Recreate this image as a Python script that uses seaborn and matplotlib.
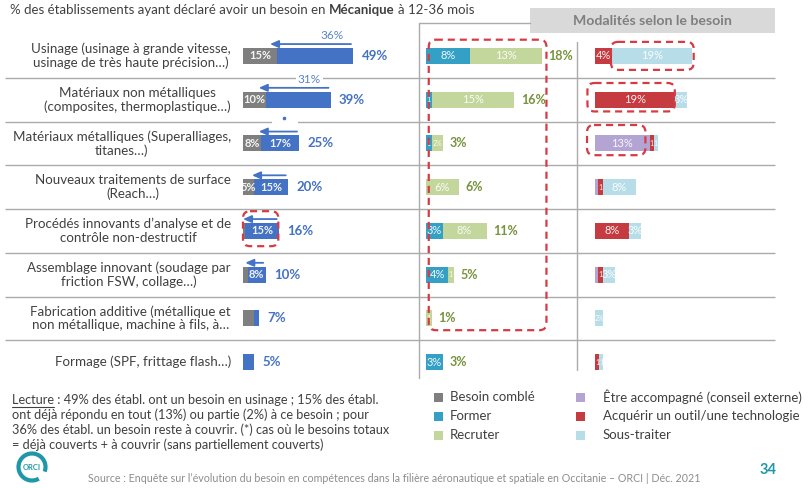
import matplotlib
matplotlib.use("Agg")
import matplotlib.pyplot as plt
from matplotlib.patches import FancyBboxPatch, Rectangle, Arc
import numpy as np
import pandas as pd
import seaborn as sns

sns.set_theme(style="white")
plt.rcParams["font.family"] = ["Lato", "DejaVu Sans"]

W, H, DPI = 811, 488, 100

# ---------------------------------------------------------------- data
categories = [
    "Usinage (usinage à grande vitesse,\nusinage de très haute précision…)",
    "Matériaux non métalliques\n(composites, thermoplastique…)",
    "Matériaux métalliques (Superalliages,\ntitanes…)",
    "Nouveaux traitements de surface\n(Reach…)",
    "Procédés innovants d’analyse et de\ncontrôle non-destructif",
    "Assemblage innovant (soudage par\nfriction FSW, collage…)",
    "Fabrication additive (métallique et\nnon métallique, machine à fils, à…",
    "Formage (SPF, frittage flash…)",
]

# % of establishments with a need: already met / still to cover
besoin_comble = [15, 10, 8, 5, 1, 2, 5, 0]
besoin_a_couvrir = [34, 29, 17, 15, 15, 8, 2, 5]
reste_a_couvrir = [36, 31, 17, 15, 15, 8, 0, 0]
reste_labels = ["36%", "31%", "", "", "", "", "", ""]
label_comble = [True, True, True, True, False, False, False, False]
label_a_couvrir = [False, False, True, True, True, True, False, False]

# Modalities: human resources
former = [8, 1, 1, 0, 3, 4, 0, 3]
recruter = [13, 15, 2, 6, 8, 1, 1, 0]
total_rh = [18, 16, 3, 6, 11, 5, 1, 3]

# Modalities: external solutions
accompagne = [0, 0, 13, 0.8, 0, 0.8, 0, 0]
acquerir = [4, 19, 1, 1, 8, 1, 0, 1]
sous_traiter = [19, 3, 1, 8, 3, 3, 2, 1]

legend_left = ["Besoin comblé", "Former", "Recruter"]
legend_right = ["Être accompagné (conseil externe)",
                "Acquérir un outil/une technologie", "Sous-traiter"]

# ---------------------------------------------------------------- style
C_GRAY = "#7F7F7F"
C_BLUE = "#4472C4"
C_TEAL = "#35A0C6"
C_GREEN = "#C3D69B"
C_PURPLE = "#B4A4D4"
C_RED = "#C63B40"
C_LBLUE = "#B7DDE8"
C_TEXT = "#404040"
C_LINE = "#ABABAB"
C_DASH = "#D63A42"
C_OLIVE = "#77933C"
C_ORCI = "#1E97A8"

fig = plt.figure(figsize=(W / DPI, H / DPI), dpi=DPI)
fig.patch.set_facecolor("white")


def px_axes(x0, y0, x1, y1, z):
    ax = fig.add_axes([x0 / W, 1 - y1 / H, (x1 - x0) / W, (y1 - y0) / H])
    ax.set_zorder(z)
    ax.axis("off")
    return ax


N = len(categories)
ROW_TOP, ROW_BOTTOM = 34, 384
ROW_H = (ROW_BOTTOM - ROW_TOP) / N


def row_y(i):
    return ROW_TOP + ROW_H * (i + 0.5)


back = px_axes(0, 0, W, H, 0)
back.set_xlim(0, W)
back.set_ylim(H, 0)
front = px_axes(0, 0, W, H, 10)
front.set_xlim(0, W)
front.set_ylim(H, 0)

L_X0, L_SC, L_MAX = 243, 2.25, 70
M_X0, M_SC, M_MAX = 426, 5.5, 26
R_X0, R_SC, R_MAX = 595, 4.2, 42
ax_l = px_axes(L_X0, ROW_TOP, L_X0 + L_SC * L_MAX, ROW_BOTTOM, 2)
ax_m = px_axes(M_X0, ROW_TOP, M_X0 + M_SC * M_MAX, ROW_BOTTOM, 2)
ax_r = px_axes(R_X0, ROW_TOP, R_X0 + R_SC * R_MAX, ROW_BOTTOM, 2)


def stacked(ax, parts, colors, xmax):
    cum = np.cumsum(np.asarray(parts, dtype=float), axis=0)
    for k in range(len(parts) - 1, -1, -1):
        df = pd.DataFrame({"categorie": categories, "part": cum[k]})
        sns.barplot(data=df, x="part", y="categorie", orient="h",
                    color=colors[k], saturation=1, width=0.37,
                    errorbar=None, linewidth=0, ax=ax)
    ax.set_xlim(0, xmax)
    ax.set_ylim(N - 0.5, -0.5)
    ax.axis("off")
    return cum


def segment_labels(ax, parts, cum, masks=None, bold=False, min_val=1):
    for k, part in enumerate(parts):
        for i, v in enumerate(part):
            if masks is not None and not masks[k][i]:
                continue
            if masks is None and v < min_val:
                continue
            start = cum[k - 1][i] if k > 0 else 0
            if v >= 3:
                txt, fs = f"{v:g}%", 8
            elif v >= 2:
                txt, fs = f"{v:g}%", 5
            else:
                txt, fs = f"{v:g}", 5   # very thin segment: number only
            ax.text(start + v / 2, i, txt, ha="center", va="center",
                    fontsize=fs, color="white", alpha=0.92,
                    fontweight="bold" if bold else "normal")


# ---------------------------------------------------------------- left: need
cum_l = stacked(ax_l, [besoin_comble, besoin_a_couvrir], [C_GRAY, C_BLUE], L_MAX)
segment_labels(ax_l, [besoin_comble, besoin_a_couvrir], cum_l,
               masks=[label_comble, label_a_couvrir], bold=True)
total_besoin = cum_l[-1]
for i, t in enumerate(total_besoin):
    ax_l.annotate(f"{t:g}%", xy=(t, i), xytext=(6, 0), textcoords="offset points",
                  ha="left", va="center", fontsize=9.5, fontweight="bold", color=C_BLUE)
    r = reste_a_couvrir[i]
    if r > 0:
        y = i - 0.27
        ax_l.annotate("", xy=(t - 1 - r, y), xytext=(t - 1, y),
                      arrowprops=dict(arrowstyle="-|>,head_length=0.5,head_width=0.22",
                                      color=C_BLUE, lw=1.3, shrinkA=0, shrinkB=0,
                                      mutation_scale=10))
    if reste_labels[i]:
        ax_l.text(t - 9.5, i - 0.46, reste_labels[i], ha="center", va="center",
                  fontsize=8.5, color="#5B84C8", zorder=5,
                  bbox=dict(facecolor="white", edgecolor="none", pad=1.2))

# ---------------------------------------------------------------- middle: HR
cum_m = stacked(ax_m, [former, recruter], [C_TEAL, C_GREEN], M_MAX)
segment_labels(ax_m, [former, recruter], cum_m)
for i, t in enumerate(total_rh):
    ax_m.annotate(f"{t}%", xy=(cum_m[-1][i], i), xytext=(5, 0),
                  textcoords="offset points", ha="left", va="center",
                  fontsize=9, fontweight="bold", color=C_OLIVE)

# ---------------------------------------------------------------- right: external
cum_r = stacked(ax_r, [accompagne, acquerir, sous_traiter],
                [C_PURPLE, C_RED, C_LBLUE], R_MAX)
segment_labels(ax_r, [accompagne, acquerir, sous_traiter], cum_r)

# ---------------------------------------------------------------- frame lines
for k in range(1, N):
    y = ROW_TOP + ROW_H * k
    back.plot([5, 775], [y, y], color=C_LINE, lw=1, solid_capstyle="butt")
back.plot([419, 419], [23, 378], color=C_LINE, lw=1)
back.plot([419, 530], [23, 23], color=C_LINE, lw=1)
back.plot([577, 577], [42, 370], color=C_LINE, lw=1)
# small gap with a dot on the second separator
gy = ROW_TOP + ROW_H * 2
back.add_patch(Rectangle((272, gy - 2), 26, 4, facecolor="white", edgecolor="none", zorder=3))
back.plot([284], [gy - 4], marker="o", ms=1.6, color=C_BLUE, zorder=4)

back.add_patch(Rectangle((530, 8), 245, 25, facecolor="#D9D9D9", edgecolor="none"))
back.text(652, 21, "Modalités selon le besoin", ha="center", va="center",
          fontsize=10.2, fontweight="bold", color="#7F7F7F")

# category labels
for i, c in enumerate(categories):
    back.text(231, row_y(i), c, ha="right", va="center", multialignment="center",
              fontsize=9.6, color=C_TEXT, linespacing=1.15)


# ---------------------------------------------------------------- highlight boxes
def data_px(ax, x, y):
    X, Y = ax.transData.transform((x, y))
    return X, H - Y


def dashed_box(ax, x0, x1, r0, r1):
    a = data_px(ax, x0, r0)
    b = data_px(ax, x1, r1)
    front.add_patch(FancyBboxPatch((a[0], a[1]), b[0] - a[0], b[1] - a[1],
                                   boxstyle="round,pad=0,rounding_size=7",
                                   fill=False, edgecolor=C_DASH, lw=1.6,
                                   linestyle=(0, (3.2, 2.2))))


dashed_box(ax_m, 0.5, cum_m[-1].max() + 0.9, -0.37, 6.27)
dashed_box(ax_r, cum_r[1][0] - 0.2, cum_r[2][0] + 0.5, -0.32, 0.32)
dashed_box(ax_r, -1.8, cum_r[1][1], 0.62, 1.27)
dashed_box(ax_r, -1.9, accompagne[2] - 1, 1.58, 2.27)
dashed_box(ax_l, 0, total_besoin[4] - 0.3, 3.55, 4.35)

# ---------------------------------------------------------------- texts
renderer = fig.canvas.get_renderer()


def text_width(s, **kw):
    t = back.text(0, 0, s, **kw)
    w = t.get_window_extent(renderer).width
    t.remove()
    return w


tkw = dict(fontsize=9.5, color=C_TEXT)
space = text_width("a a", **tkw) - text_width("aa", **tkw)
x = 10
for piece, weight in [("% des établissements ayant déclaré avoir un besoin en", "normal"),
                      ("Mécanique", "bold"), ("à 12-36 mois", "normal")]:
    back.text(x, 10, piece, ha="left", va="center", fontweight=weight, **tkw)
    x += text_width(piece, fontweight=weight, **tkw) + space

lecture = [
    "Lecture : 49% des établ. ont un besoin en usinage ; 15% des établ.",
    "ont déjà répondu en tout (13%) ou partie (2%) à ce besoin ; pour",
    "36% des établ. un besoin reste à couvrir. (*) cas où le besoins totaux",
    "= déjà couverts + à couvrir (sans partiellement couverts)",
]
lkw = dict(fontsize=9.2, color=C_TEXT)
for j, line in enumerate(lecture):
    back.text(12, 400 + 15 * j, line, ha="left", va="center", **lkw)
uw = text_width("Lecture", **lkw)
back.plot([12, 12 + uw], [406.5, 406.5], color=C_TEXT, lw=0.8)

# legend
leg_colors_l = [C_GRAY, C_TEAL, C_GREEN]
leg_colors_r = [C_PURPLE, C_RED, C_LBLUE]
for j in range(3):
    y = 397 + 19 * j
    front.add_patch(Rectangle((434, y - 4.5), 9, 9, facecolor=leg_colors_l[j], edgecolor="none"))
    front.text(450, y, legend_left[j], ha="left", va="center", fontsize=9.5, color=C_TEXT)
    front.add_patch(Rectangle((576, y - 4.5), 9, 9, facecolor=leg_colors_r[j], edgecolor="none"))
    front.text(603, y, legend_right[j], ha="left", va="center", fontsize=9.5, color=C_TEXT)

back.text(88, 478, "Source : Enquête sur l’évolution du besoin en compétences dans la filière "
          "aéronautique et spatiale en Occitanie – ORCI | Déc. 2021",
          ha="left", va="center", fontsize=7.7, color="#8C8C8C")
back.text(768, 470, "34", ha="center", va="center", fontsize=10.5,
          fontweight="bold", color=C_ORCI)

# logo
back.add_patch(Arc((32, 467), 27, 27, theta1=60, theta2=380, color=C_ORCI, lw=3))
back.text(32, 467, "ORCI", ha="center", va="center", fontsize=5.5,
          fontweight="bold", color=C_ORCI)

fig.savefig("out.png", dpi=DPI, facecolor="white")
